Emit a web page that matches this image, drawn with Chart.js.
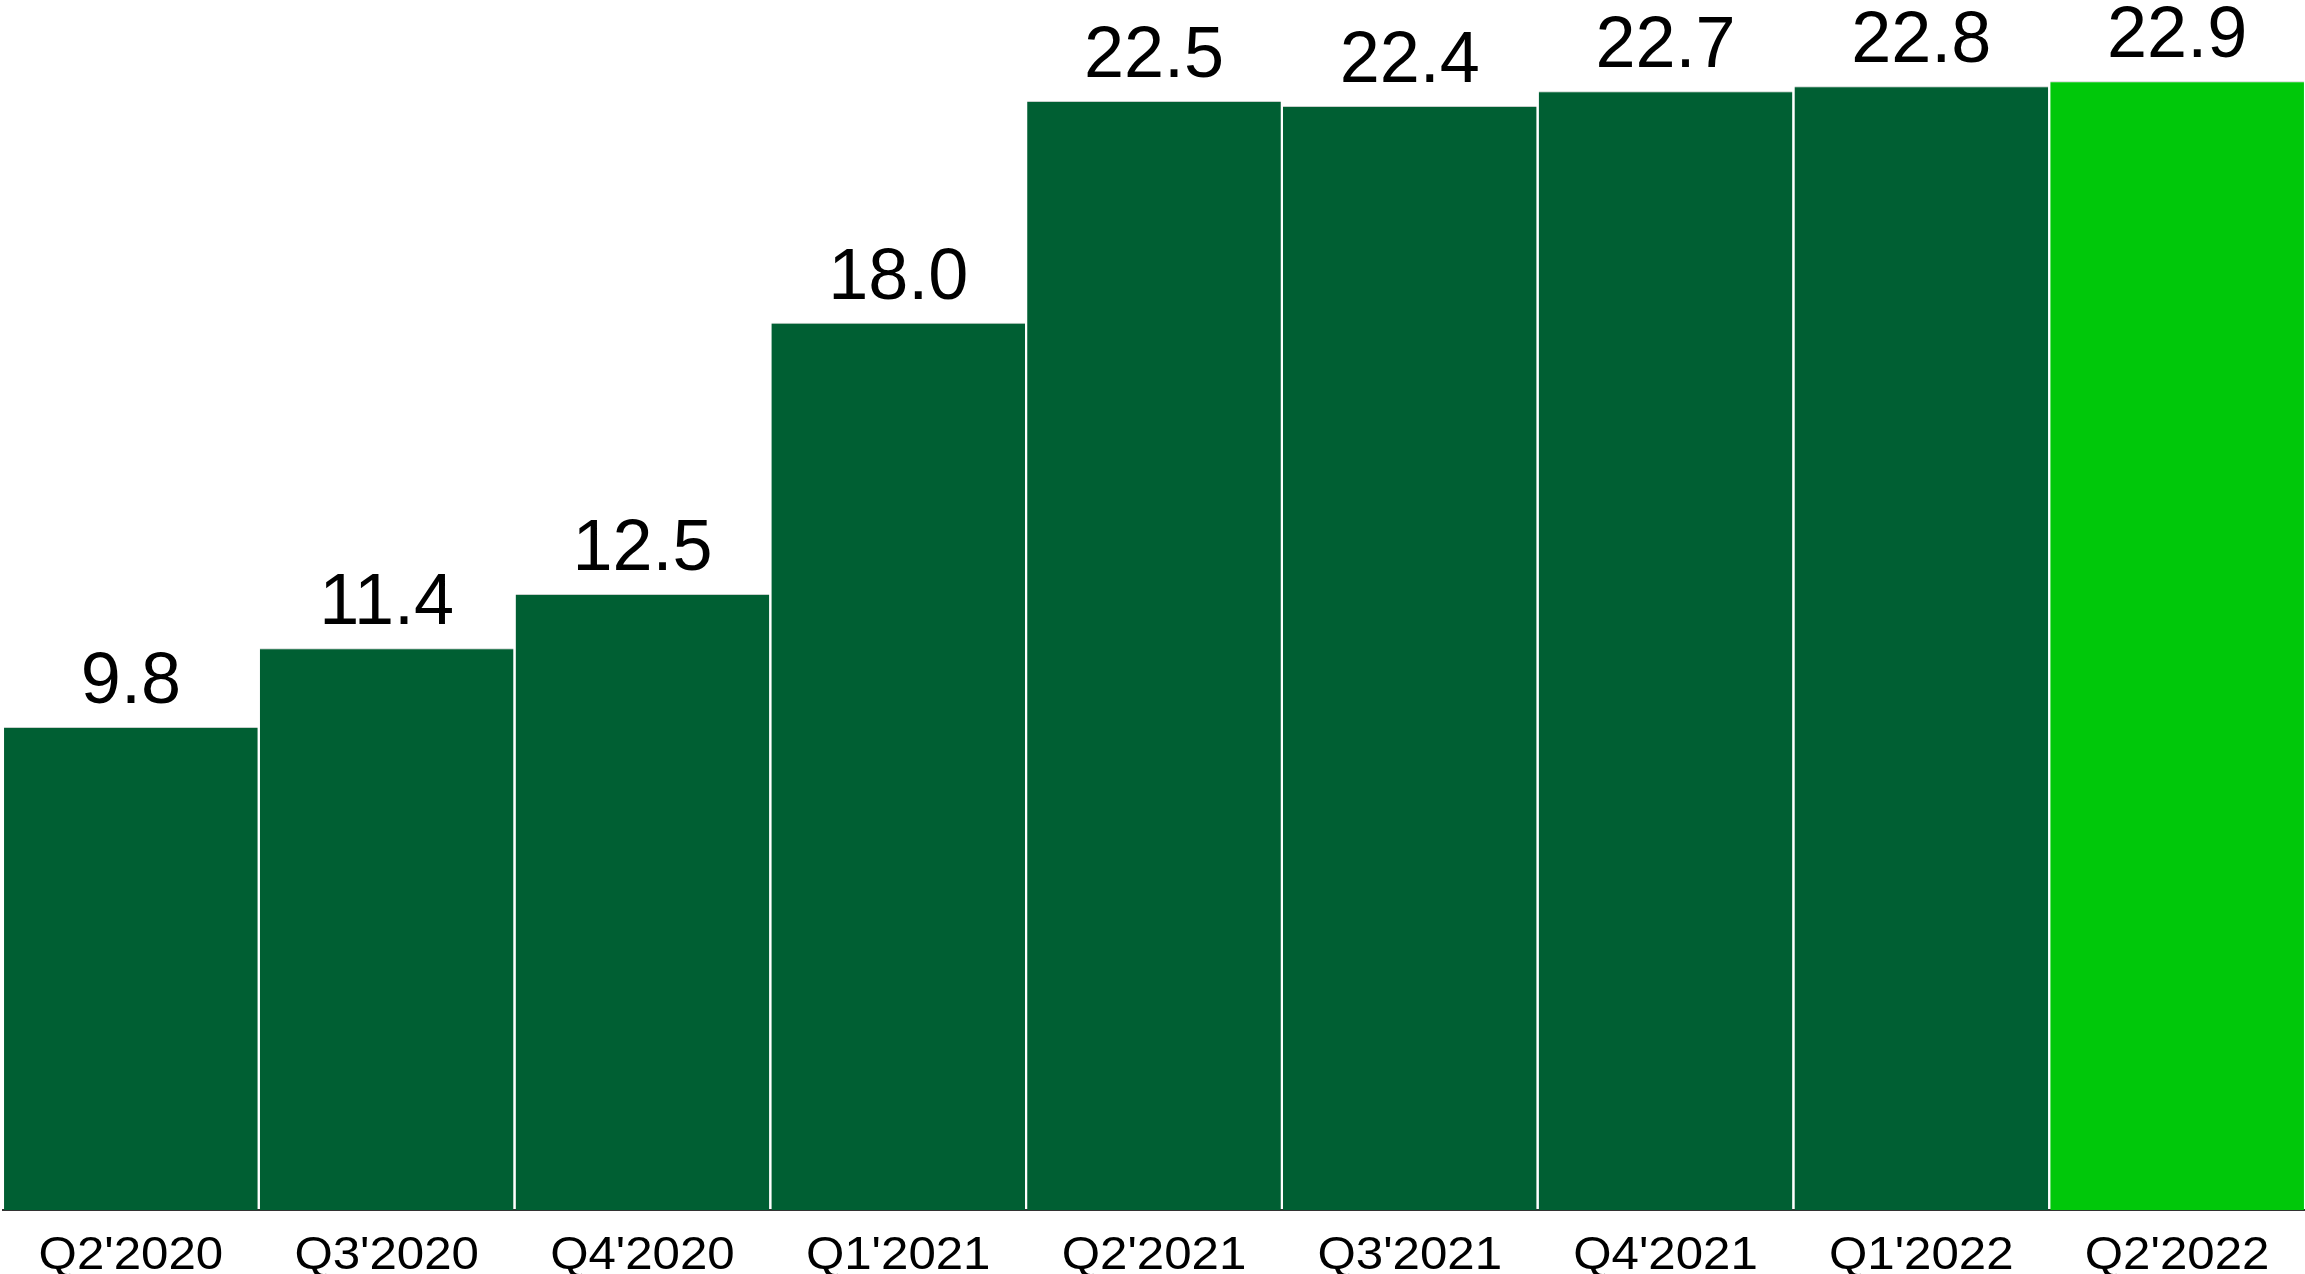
<!DOCTYPE html>
<html>
<head>
<meta charset="utf-8">
<script src="https://cdn.jsdelivr.net/npm/chart.js@4.4.0/dist/chart.umd.min.js"></script>
<style>
  html, body { margin: 0; padding: 0; background: #fff; overflow: hidden; }
  #wrap { width: 2305px; height: 1296px; position: relative; }
</style>
</head>
<body>
<div id="wrap"><canvas id="mycanvas"></canvas></div>
<script>
var quarters = ["Q2'2020", "Q3'2020", "Q4'2020", "Q1'2021", "Q2'2021", "Q3'2021", "Q4'2021", "Q1'2022", "Q2'2022"];
var values = [9.8, 11.4, 12.5, 18.0, 22.5, 22.4, 22.7, 22.8, 22.9];

var darkGreen = "#005f33";
var brightGreen = "#00c80a";

// value labels above each bar + quarter labels under the axis
var valueLabels = {
    id: 'valueLabels',
    afterDatasetsDraw: function(chart){
        var ctx = chart.ctx;
        var meta = chart.getDatasetMeta(0);
        ctx.save();
        ctx.fillStyle = "#000";
        ctx.font = "72px 'Liberation Sans', Arial, sans-serif";
        ctx.textAlign = "center";
        ctx.textBaseline = "alphabetic";
        meta.data.forEach(function(bar, i){
            ctx.fillText(values[i].toFixed(1), bar.x, bar.y - 24);
        });
        ctx.restore();
    },
    afterDraw: function(chart){
        var ctx = chart.ctx;
        var xs = chart.scales.x;
        ctx.save();
        ctx.fillStyle = "#000";
        ctx.font = "46px 'Liberation Sans', Arial, sans-serif";
        ctx.textAlign = "center";
        ctx.textBaseline = "alphabetic";
        quarters.forEach(function(q, i){
            var x = xs.getPixelForTick(i);
            ctx.save();
            ctx.translate(x, chart.chartArea.bottom + 59);
            ctx.scale(1.07, 1);
            ctx.fillText(q, 0, 0);
            ctx.restore();
        });
        ctx.restore();
    }
};

var ctx = document.getElementById("mycanvas");

var GenericGraph = new Chart(ctx, {
    type: 'bar',
    data: {
        labels: quarters,
        datasets: [{
            data: values,
            backgroundColor: values.map(function(v, i){ return i === values.length - 1 ? brightGreen : darkGreen; }),
            borderColor: "#c8d0cc",
            borderWidth: {top: 1, left: 0, right: 0, bottom: 0},
            borderSkipped: false,
            categoryPercentage: 1.0,
            barPercentage: 0.992
        }]
    },
    options: {
        responsive: true,
        maintainAspectRatio: false,
        animation: false,
        layout: { padding: { left: 3, right: 0, top: 0, bottom: 0 } },
        plugins: {
            legend: { display: false },
            tooltip: { enabled: false }
        },
        scales: {
            x: {
                grid: { display: false },
                border: { display: true, color: "#333", width: 2 },
                ticks: {
                    color: "rgba(0,0,0,0)",
                    padding: 12,
                    maxRotation: 0,
                    font: { family: "'Liberation Sans', sans-serif", size: 45 }
                }
            },
            y: {
                display: false,
                min: 0,
                max: 24.55
            }
        }
    },
    plugins: [valueLabels]
});
</script>
</body>
</html>
